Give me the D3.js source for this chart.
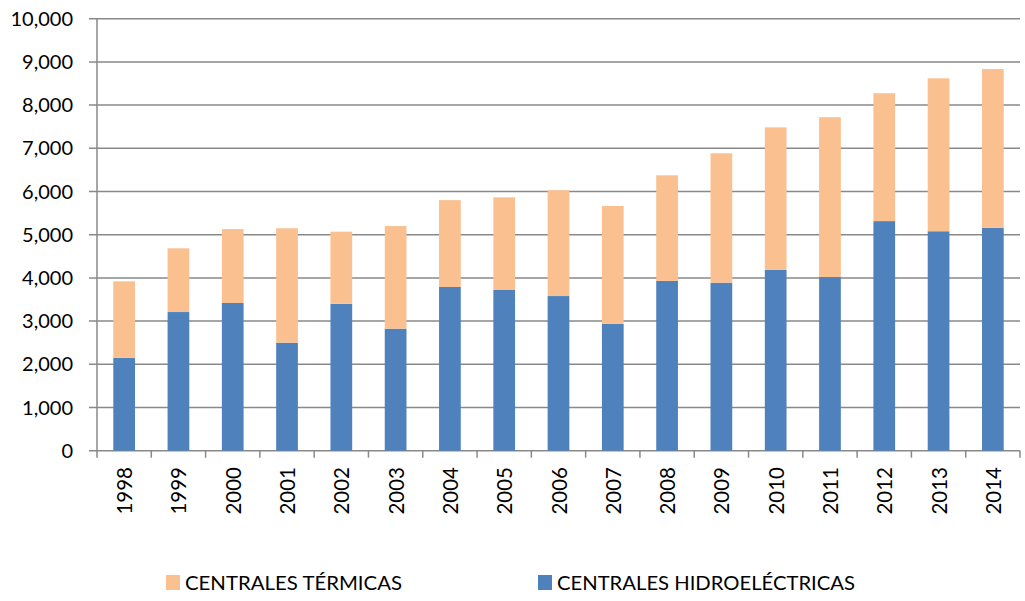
<!DOCTYPE html>
<html>
<head>
<meta charset="utf-8">
<script src="https://cdn.jsdelivr.net/npm/d3@7"></script>
<style>
  body { margin: 0; background: #fff; }
  text { font-family: Lato, "Open Sans", sans-serif; fill: #000; }
</style>
</head>
<body>
<svg id="chart" width="1025" height="601"></svg>
<script>
// values
const years = ['1998','1999','2000','2001','2002','2003','2004','2005','2006',
               '2007','2008','2009','2010','2011','2012','2013','2014'];
const hidro = [2150, 3210, 3420, 2500, 3400, 2825, 3790, 3720, 3580,
               2935, 3930, 3890, 4185, 4020, 5315, 5080, 5160];
const termicas = [1770, 1475, 1710, 2650, 1670, 2375, 2010, 2145, 2450,
                  2730, 2445, 2995, 3300, 3700, 2960, 3540, 3675];
const yTicks = [0, 1000, 2000, 3000, 4000, 5000, 6000, 7000, 8000, 9000, 10000];

const series = [
  { key: 'hidro', label: 'CENTRALES HIDROELÉCTRICAS', color: '#4f81bd' },
  { key: 'termicas', label: 'CENTRALES TÉRMICAS', color: '#fac090' }
];

const rows = years.map((y, i) => ({ year: y, hidro: hidro[i], termicas: termicas[i] }));

const svg = d3.select('#chart');
const plotLeft = 97, plotRight = 1020, plotTop = 18.7, plotBottom = 450.7;
const gridColor = '#898989';

const x = d3.scaleBand().domain(years).range([plotLeft, plotRight]).paddingInner(0.6).paddingOuter(0.3);
const band = d3.scaleBand().domain(years).range([plotLeft, plotRight]);
const y = d3.scaleLinear().domain([0, 10000]).range([plotBottom, plotTop]);

// horizontal grid
svg.append('g')
  .selectAll('line')
  .data(yTicks)
  .join('line')
  .attr('x1', plotLeft - 8).attr('x2', plotRight)
  .attr('y1', d => y(d)).attr('y2', d => y(d))
  .attr('stroke', gridColor).attr('stroke-width', 1.5);

// y axis line
svg.append('line')
  .attr('x1', plotLeft).attr('x2', plotLeft).attr('y1', plotTop).attr('y2', plotBottom + 7)
  .attr('stroke', gridColor).attr('stroke-width', 1.5);

// y labels
svg.append('g')
  .selectAll('text')
  .data(yTicks)
  .join('text')
  .attr('x', 73).attr('y', d => y(d) + 7)
  .attr('text-anchor', 'end')
  .attr('font-size', 20)
  .text(d => d3.format(',')(d));

// stacked bars
const stacked = d3.stack().keys(series.map(s => s.key))(rows);
svg.append('g')
  .selectAll('g')
  .data(stacked)
  .join('g')
  .attr('fill', (d, i) => series[i].color)
  .selectAll('rect')
  .data(d => d)
  .join('rect')
  .attr('x', d => x(d.data.year))
  .attr('width', x.bandwidth())
  .attr('y', d => y(d[1]))
  .attr('height', d => y(d[0]) - y(d[1]));

// category ticks between bands
const bounds = years.map(yr => band(yr)).concat([plotRight]);
svg.append('g')
  .selectAll('line')
  .data(bounds.slice(1))
  .join('line')
  .attr('x1', d => d).attr('x2', d => d)
  .attr('y1', plotBottom).attr('y2', plotBottom + 7)
  .attr('stroke', gridColor).attr('stroke-width', 1.5);

// year labels, rotated
svg.append('g')
  .selectAll('text')
  .data(years)
  .join('text')
  .attr('transform', d => `translate(${band(d) + band.bandwidth() / 2 + 8},467) rotate(-90)`)
  .attr('text-anchor', 'end')
  .attr('font-family', '"Liberation Sans", Arial, sans-serif')
  .attr('font-size', 20.5)
  .text(d => d);

// legend
const legend = [
  { label: 'CENTRALES TÉRMICAS', color: '#fac090', x: 166, w: 217 },
  { label: 'CENTRALES HIDROELÉCTRICAS', color: '#4f81bd', x: 538, w: 298 }
];
const lg = svg.append('g')
  .selectAll('g')
  .data(legend)
  .join('g')
  .attr('transform', d => `translate(${d.x},575)`);
lg.append('rect').attr('width', 14).attr('height', 15).attr('fill', d => d.color);
lg.append('text')
  .attr('x', 19).attr('y', 15)
  .attr('font-size', 20)
  .attr('textLength', d => d.w)
  .attr('lengthAdjust', 'spacingAndGlyphs')
  .text(d => d.label);
</script>
</body>
</html>
